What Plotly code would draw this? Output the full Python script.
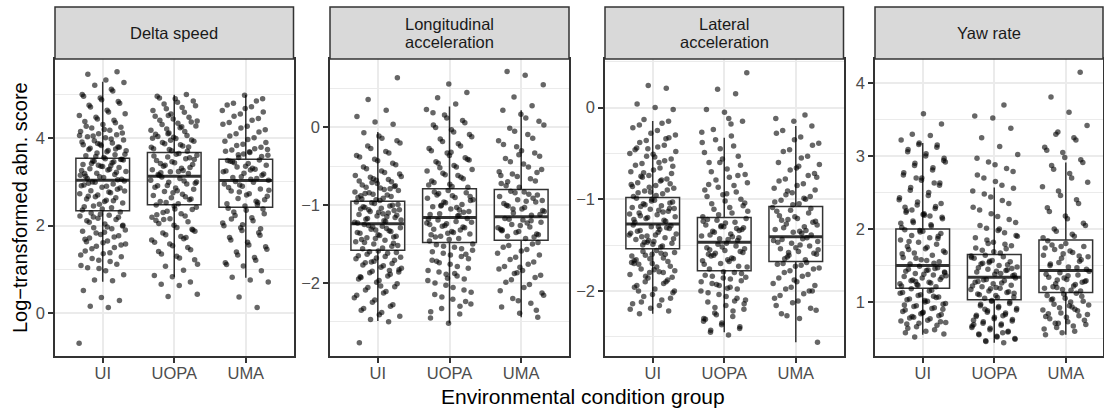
import plotly.graph_objects as go

groups = ["UI", "UOPA", "UMA"]
facet_titles = [["Delta speed"], ["Longitudinal", "acceleration"], ["Lateral", "acceleration"], ["Yaw rate"]]

# ---------------- box statistics ----------------
ds_lower = [0.72, 0.83, 0.81]
ds_q1 = [2.34, 2.48, 2.42]
ds_median = [3.04, 3.13, 3.03]
ds_q3 = [3.54, 3.67, 3.52]
ds_upper = [5.29, 4.99, 4.99]

lo_lower = [-2.49, -2.52, -2.44]
lo_q1 = [-1.58, -1.48, -1.45]
lo_median = [-1.24, -1.16, -1.15]
lo_q3 = [-0.95, -0.79, -0.80]
lo_upper = [-0.06, 0.27, 0.22]

la_lower = [-2.25, -2.45, -2.56]
la_q1 = [-1.54, -1.78, -1.68]
la_median = [-1.27, -1.47, -1.41]
la_q3 = [-0.98, -1.20, -1.08]
la_upper = [-0.145, -0.33, -0.20]

yr_lower = [0.55, 0.44, 0.55]
yr_q1 = [1.19, 1.03, 1.13]
yr_median = [1.50, 1.34, 1.43]
yr_q3 = [2.00, 1.65, 1.85]
yr_upper = [3.18, 2.57, 2.91]

# ---------------- individual scores (approximate readings) ----------------
ds_ui = [-0.69, 0.13, 0.16, 0.29, 0.36, 0.52, 0.74, 0.76, 0.88, 0.97, 1.04, 1.12, 1.21, 1.33, 1.38, 1.47, 1.56,
         1.61, 1.69, 1.74, 1.83, 1.9, 1.97, 2.08, 2.19, 2.26,
         2.36, 2.41, 2.45, 2.52, 2.55, 2.61, 2.64, 2.7, 2.73, 2.77, 2.8, 2.86, 2.88, 2.93, 2.95, 2.99, 3.02,
         2.58, 2.67, 2.83, 2.49, 2.91, 2.75, 3.0,
         3.06, 3.1, 3.13, 3.17, 3.2, 3.24, 3.27, 3.3, 3.33, 3.36, 3.4, 3.44, 3.47, 3.5, 3.53, 3.08, 3.22, 3.38,
         3.15, 3.29, 3.42, 3.51, 3.35, 3.19, 3.46,
         3.58, 3.63, 3.69, 3.74, 3.8, 3.86, 3.91, 3.98, 4.05, 4.12, 4.2, 4.27, 4.35, 4.44, 4.52, 4.6, 4.71,
         4.8, 4.88, 4.96, 5.08, 5.21, 5.27, 5.33, 5.46, 5.52,
         1.02, 1.09, 1.18, 1.25, 1.29, 1.36, 1.42, 1.5, 1.53, 1.58, 1.65, 1.72, 1.77, 1.8, 1.87, 1.93, 1.95,
         2.01, 2.04, 2.11, 2.14, 2.17, 2.22, 2.24, 2.29, 2.31,
         2.38, 2.43, 2.57, 2.66, 2.79, 2.9, 2.97, 3.05, 3.12, 3.26, 3.37, 3.48, 3.52,
         3.56, 3.6, 3.62, 3.66, 3.71, 3.72, 3.77, 3.79, 3.83, 3.85, 3.89, 3.94, 3.96, 4.01, 4.03, 4.08, 4.1,
         4.15, 4.18, 4.23, 4.25, 4.31, 4.38, 4.41, 4.48, 4.56, 4.64, 4.75, 4.84, 4.92, 5.0, 5.12, 2.2, 1.99,
         1.85, 1.63, 3.75, 3.88, 4.06]
ds_uopa = [0.38, 0.43, 0.63, 0.66, 0.71, 0.83, 0.86, 0.98, 1.07, 1.22, 1.3, 1.41, 1.5, 1.58, 1.67, 1.75, 1.83,
           1.92, 2.01, 2.12, 2.22, 2.33, 2.42,
           2.5, 2.55, 2.59, 2.64, 2.69, 2.72, 2.78, 2.83, 2.86, 2.91, 2.95, 2.99, 3.04, 3.08, 3.11, 2.61, 2.75,
           2.88, 3.02, 2.53, 2.97, 2.8,
           3.15, 3.19, 3.23, 3.28, 3.31, 3.36, 3.4, 3.44, 3.49, 3.53, 3.57, 3.61, 3.65, 3.21, 3.33, 3.46, 3.59,
           3.26, 3.38, 3.51, 3.63, 3.17,
           3.7, 3.74, 3.79, 3.85, 3.9, 3.96, 4.02, 4.09, 4.15, 4.21, 4.28, 4.34, 4.41, 4.48, 4.55, 4.63, 4.7,
           4.78, 4.85, 4.9, 4.96, 5.0, 4.52,
           1.12, 1.26, 1.35, 1.45, 1.54, 1.62, 1.7, 1.79, 1.87, 1.96, 2.05, 2.09, 2.16, 2.19, 2.27, 2.3, 2.37,
           2.45, 2.47, 2.66, 2.92, 3.0, 3.24, 3.42, 3.55, 3.71, 3.76, 3.82, 3.87, 3.93, 3.99, 4.04, 4.06, 4.12,
           4.18, 4.24, 4.31, 4.37, 4.44, 4.5, 4.59, 4.67, 4.74, 4.82, 4.92, 3.8, 3.95, 4.0, 4.26, 2.14, 1.9,
           2.38, 2.25, 1.73, 4.1, 4.39]
ds_uma = [0.13, 0.37, 0.71, 0.76, 0.82, 0.97, 1.08, 1.15, 1.27, 1.4, 1.52, 1.62, 1.73, 1.84, 1.95, 2.06, 2.18,
          2.31, 2.38,
          2.45, 2.5, 2.56, 2.62, 2.67, 2.73, 2.79, 2.84, 2.9, 2.95, 2.99, 3.01, 2.59, 2.7, 2.87, 2.53, 2.93, 2.81,
          3.06, 3.1, 3.15, 3.2, 3.25, 3.29, 3.34, 3.38, 3.42, 3.47, 3.5, 3.12, 3.23, 3.31, 3.44, 3.18, 3.36,
          3.49, 3.08,
          3.56, 3.61, 3.67, 3.73, 3.79, 3.86, 3.93, 4.01, 4.1, 4.19, 4.27, 4.36, 4.45, 4.55, 4.63, 4.72, 4.8,
          4.9, 4.98,
          1.11, 1.21, 1.33, 1.46, 1.56, 1.67, 1.78, 1.89, 2.0, 2.11, 2.23, 2.27, 2.35, 2.4, 2.48, 2.77, 3.04,
          3.27, 3.46, 3.58, 3.64, 3.7, 3.76, 3.83, 3.9, 3.97, 4.05, 4.14, 4.23, 4.32, 4.41, 4.5, 4.6, 4.68,
          4.76, 4.85, 3.62, 3.74, 3.69, 2.15, 1.93, 2.02]

lo_ui = [-2.77, -2.5, -2.47, -2.43, -2.38, -2.33, -2.28, -2.22, -2.16, -2.11, -2.06, -2.01, -1.97, -1.93,
         -1.89, -1.85, -1.81, -1.78, -1.74, -1.71, -1.68, -1.65, -1.62, -1.6, -1.86, -2.04,
         -1.56, -1.53, -1.5, -1.47, -1.45, -1.42, -1.4, -1.38, -1.36, -1.33, -1.31, -1.29, -1.27, -1.25,
         -1.49, -1.43, -1.35, -1.3, -1.26, -1.52, -1.39, -1.44, -1.34, -1.28,
         -1.22, -1.2, -1.18, -1.16, -1.14, -1.12, -1.1, -1.08, -1.06, -1.04, -1.02, -1.0, -0.98, -0.96,
         -1.21, -1.17, -1.13, -1.09, -1.05, -1.01, -0.97, -1.19, -1.11, -1.03, -1.07,
         -0.93, -0.9, -0.87, -0.84, -0.81, -0.78, -0.74, -0.7, -0.66, -0.62, -0.58, -0.53, -0.48, -0.43,
         -0.38, -0.33, -0.27, -0.2, -0.14, -0.07, 0.04, 0.07, 0.14, 0.22, 0.36, 0.64,
         -2.41, -2.35, -2.3, -2.25, -2.19, -2.13, -2.09, -2.05, -1.99, -1.95, -1.91, -1.87, -1.83, -1.8,
         -1.77, -1.75, -1.72, -1.69, -1.66, -1.63, -1.61, -1.59, -1.92, -1.84, -1.73, -1.67,
         -1.55, -1.48, -1.41, -1.32, -1.23, -1.15, -1.06, -0.99,
         -0.94, -0.92, -0.89, -0.86, -0.83, -0.8, -0.77, -0.75, -0.72, -0.69, -0.67, -0.64, -0.6, -0.56,
         -0.51, -0.46, -0.41, -0.36, -0.31, -0.24, -0.17, -0.11, -0.88, -0.79, -0.71, -0.63, -0.91, -0.85,
         -0.76, -0.68]
lo_uopa = [-2.52, -2.45, -2.4, -2.33, -2.27, -2.21, -2.15, -2.09, -2.03, -1.97, -1.91, -1.86, -1.81, -1.76,
           -1.71, -1.66, -1.62, -1.58, -1.54, -1.51, -2.24, -1.94,
           -1.46, -1.43, -1.4, -1.37, -1.34, -1.31, -1.28, -1.26, -1.23, -1.21, -1.19, -1.17, -1.44, -1.38,
           -1.32, -1.27, -1.22, -1.35, -1.41, -1.29, -1.24, -1.18,
           -1.14, -1.11, -1.08, -1.05, -1.02, -0.99, -0.96, -0.93, -0.9, -0.87, -0.84, -0.81, -1.12, -1.06,
           -1.0, -0.94, -0.88, -0.83, -1.09, -0.97, -0.91, -1.03, -0.85,
           -0.77, -0.73, -0.69, -0.64, -0.59, -0.54, -0.49, -0.44, -0.39, -0.33, -0.27, -0.21, -0.15, -0.09,
           -0.03, 0.03, 0.09, 0.16, 0.23, 0.3, 0.38, 0.45, 0.56,
           -2.37, -2.3, -2.18, -2.12, -2.06, -2.0, -1.95, -1.89, -1.84, -1.79, -1.74, -1.69, -1.64, -1.6,
           -1.56, -1.53, -1.5, -1.88, -1.72, -1.63, -1.36, -1.25, -1.13, -1.01, -0.89, -0.76, -0.71, -0.66,
           -0.61, -0.56, -0.51, -0.46, -0.41, -0.36, -0.3, -0.24, -0.18, -0.12, -0.06, 0.0, 0.06, 0.12, -0.74,
           -0.62, -0.52, -0.42, -0.32, 0.19]
lo_uma = [-2.44, -2.39, -2.31, -2.26, -2.2, -2.13, -2.06, -1.99, -1.93, -1.87, -1.82, -1.76, -1.7, -1.64,
          -1.59, -1.54, -1.5, -1.88, -2.16,
          -1.43, -1.4, -1.37, -1.34, -1.31, -1.28, -1.25, -1.22, -1.19, -1.17, -1.41, -1.35, -1.29, -1.23,
          -1.18, -1.38, -1.26, -1.32,
          -1.13, -1.1, -1.07, -1.03, -1.0, -0.96, -0.93, -0.89, -0.86, -0.82, -1.12, -1.05, -0.98, -0.91,
          -0.84, -1.08, -0.95, -1.01, -0.87,
          -0.77, -0.72, -0.66, -0.6, -0.54, -0.47, -0.4, -0.33, -0.25, -0.17, -0.09, -0.01, 0.08, 0.17, 0.22,
          0.28, 0.39, 0.55, 0.67, 0.72,
          -2.35, -2.23, -2.1, -2.02, -1.96, -1.9, -1.84, -1.79, -1.73, -1.67, -1.62, -1.57, -1.52, -1.48,
          -1.8, -1.33, -1.2, -1.05, -0.94, -0.83, -0.75, -0.69, -0.63, -0.57, -0.51, -0.44, -0.37, -0.3,
          -0.22, -0.14, -0.05, 0.03, 0.12, -0.7, -0.58, -0.35, -0.62]

la_ui = [-2.25, -2.22, -2.19, -2.14, -2.1, -2.06, -2.02, -1.98, -1.94, -1.9, -1.86, -1.82, -1.79, -1.76,
         -1.73, -1.7, -1.67, -1.64, -1.61, -1.58, -1.56, -2.0, -1.88, -1.8, -1.69,
         -1.52, -1.5, -1.48, -1.46, -1.44, -1.42, -1.4, -1.38, -1.36, -1.34, -1.32, -1.3, -1.28, -1.51, -1.47,
         -1.43, -1.39, -1.35, -1.31, -1.45, -1.37, -1.33, -1.41, -1.29, -1.49,
         -1.25, -1.23, -1.21, -1.19, -1.17, -1.15, -1.13, -1.11, -1.09, -1.07, -1.05, -1.03, -1.01, -0.99,
         -1.24, -1.2, -1.16, -1.12, -1.08, -1.04, -1.0, -1.22, -1.14, -1.06, -1.1,
         -0.96, -0.93, -0.9, -0.87, -0.84, -0.8, -0.76, -0.72, -0.68, -0.63, -0.58, -0.53, -0.48, -0.43,
         -0.38, -0.33, -0.28, -0.22, -0.17, -0.13, -0.02, 0.0, 0.04, 0.21, 0.24,
         -2.2, -2.16, -2.12, -2.08, -2.04, -1.96, -1.92, -1.84, -1.78, -1.74, -1.71, -1.68, -1.65, -1.62,
         -1.59, -1.57, -1.85, -1.77, -1.66, -1.6, -1.47, -1.39, -1.3, -1.18, -1.1, -1.02, -0.97, -0.94,
         -0.91, -0.88, -0.85, -0.82, -0.78, -0.74, -0.7, -0.66, -0.61, -0.56, -0.51, -0.46, -0.41, -0.36,
         -0.3, -0.25, -0.19, -0.15, -0.92, -0.86, -0.79, -0.71, -0.64, -0.54, -0.44, -0.34, -0.45, -0.5,
         -0.6, -0.75, -0.83, -1.6, -1.7, -1.8, -1.9, -2.0]
la_uopa = [-2.48, -2.45, -2.41, -2.37, -2.33, -2.28, -2.24, -2.2, -2.16, -2.12, -2.08, -2.04, -2.0, -1.96,
           -1.92, -1.89, -1.86, -1.83, -1.8, -2.26, -2.1, -1.97,
           -1.76, -1.73, -1.7, -1.67, -1.64, -1.61, -1.58, -1.56, -1.53, -1.51, -1.49, -1.74, -1.68, -1.62,
           -1.57, -1.52, -1.71, -1.65, -1.59, -1.54, -1.48, -1.6,
           -1.45, -1.43, -1.4, -1.38, -1.35, -1.33, -1.3, -1.28, -1.25, -1.23, -1.21, -1.44, -1.39, -1.34,
           -1.29, -1.24, -1.41, -1.36, -1.31, -1.26, -1.22, -1.32,
           -1.17, -1.13, -1.09, -1.05, -1.0, -0.95, -0.9, -0.85, -0.79, -0.73, -0.67, -0.6, -0.53, -0.45,
           -0.38, -0.31, -0.24, -0.15, -0.05, -0.02, 0.15, 0.2, 0.38, -0.12,
           -2.43, -2.39, -2.35, -2.3, -2.22, -2.18, -2.14, -2.06, -2.02, -1.98, -1.94, -1.9, -1.87, -1.84,
           -1.81, -1.79, -2.31, -2.11, -1.93, -1.85, -1.66, -1.55, -1.42, -1.3, -1.19, -1.15, -1.11, -1.07,
           -1.02, -0.97, -0.92, -0.87, -0.82, -0.76, -0.7, -0.63, -0.56, -0.49, -0.42, -0.35, -1.04, -0.94,
           -0.84, -0.74, -0.6, -0.27, -0.18]
la_uma = [-2.56, -2.3, -2.25, -2.19, -2.13, -2.08, -2.03, -1.98, -1.94, -1.9, -1.86, -1.82, -1.78, -1.75,
          -1.72, -1.7, -2.0, -1.88, -2.16,
          -1.66, -1.63, -1.6, -1.57, -1.54, -1.51, -1.48, -1.45, -1.43, -1.65, -1.59, -1.53, -1.47, -1.42,
          -1.61, -1.55, -1.5, -1.44,
          -1.39, -1.36, -1.33, -1.3, -1.27, -1.24, -1.21, -1.18, -1.15, -1.12, -1.09, -1.37, -1.31, -1.25,
          -1.19, -1.13, -1.34, -1.22, -1.28,
          -1.05, -1.01, -0.97, -0.93, -0.88, -0.83, -0.78, -0.72, -0.66, -0.6, -0.53, -0.46, -0.39, -0.32,
          -0.25, -0.2, -0.15, -0.12, -0.08,
          -2.27, -2.21, -2.11, -2.05, -2.0, -1.96, -1.92, -1.84, -1.8, -1.76, -1.73, -1.71, -1.69, -1.58,
          -1.46, -1.35, -1.23, -1.1, -1.06, -1.03, -0.99, -0.95, -0.9, -0.85, -0.8, -0.74, -0.68, -0.62,
          -0.55, -0.48, -0.41, -0.35, -0.28, -1.0, -0.91, -0.76, -0.64]

yr_ui = [0.52, 0.56, 0.6, 0.64, 0.68, 0.71, 0.74, 0.77, 0.8, 0.83, 0.86, 0.89, 0.92, 0.95, 0.98, 1.01, 1.04,
         1.07, 1.1, 1.13, 1.16, 0.79, 0.9, 1.02, 0.7,
         1.21, 1.23, 1.25, 1.27, 1.29, 1.31, 1.33, 1.35, 1.37, 1.39, 1.41, 1.43, 1.45, 1.47, 1.49, 1.22,
         1.26, 1.3, 1.34, 1.38, 1.42, 1.46, 1.24, 1.36, 1.44,
         1.52, 1.55, 1.58, 1.61, 1.64, 1.67, 1.7, 1.73, 1.76, 1.79, 1.82, 1.85, 1.88, 1.91, 1.94, 1.97, 1.99,
         1.53, 1.6, 1.68, 1.75, 1.83, 1.9, 1.96, 1.66,
         2.04, 2.09, 2.14, 2.19, 2.25, 2.31, 2.37, 2.43, 2.5, 2.57, 2.63, 2.7, 2.77, 2.84, 2.9, 2.97, 3.03,
         3.09, 3.15, 3.18, 3.22, 3.28, 3.3, 3.44, 3.58,
         0.58, 0.62, 0.66, 0.72, 0.75, 0.78, 0.81, 0.84, 0.87, 0.91, 0.94, 0.97, 1.0, 1.03, 1.06, 1.09, 1.12,
         1.15, 1.18, 0.73, 0.85, 0.96, 1.08, 1.28, 1.4, 1.57, 1.72, 1.87, 1.98, 2.02, 2.06, 2.11, 2.16, 2.21,
         2.23, 2.28, 2.33, 2.4, 2.46, 2.53, 2.6, 2.67, 2.74, 2.81, 2.87, 2.94, 3.0, 3.06, 3.12, 3.16, 2.08,
         2.18, 2.26, 2.35, 2.2, 2.3, 2.63, 2.7, 2.92]
yr_uopa = [0.44, 0.47, 0.5, 0.53, 0.56, 0.59, 0.62, 0.65, 0.68, 0.71, 0.74, 0.77, 0.8, 0.83, 0.86, 0.89, 0.92,
           0.95, 0.98, 1.01, 0.75, 0.58,
           1.05, 1.07, 1.09, 1.11, 1.13, 1.15, 1.17, 1.19, 1.21, 1.23, 1.25, 1.27, 1.29, 1.31, 1.33, 1.06,
           1.1, 1.14, 1.18, 1.22, 1.26, 1.3,
           1.36, 1.38, 1.41, 1.43, 1.45, 1.48, 1.5, 1.52, 1.55, 1.57, 1.6, 1.62, 1.64, 1.37, 1.42, 1.47, 1.51,
           1.56, 1.61, 1.39, 1.53, 1.46,
           1.69, 1.74, 1.79, 1.85, 1.91, 1.98, 2.05, 2.13, 2.21, 2.3, 2.39, 2.48, 2.56, 2.65, 2.74, 2.83, 2.92,
           3.02, 3.13, 3.25, 3.38, 3.52, 3.55, 3.7,
           0.46, 0.49, 0.52, 0.55, 0.6, 0.64, 0.67, 0.7, 0.73, 0.76, 0.79, 0.82, 0.85, 0.88, 0.91, 0.94, 0.97,
           1.0, 1.02, 0.69, 0.81, 0.9, 1.12, 1.2, 1.28, 1.44, 1.54, 1.63, 1.67, 1.71, 1.77, 1.82, 1.88, 1.95,
           2.01, 2.09, 2.17, 2.26, 2.35, 2.44, 2.52, 2.6, 2.7, 2.79, 2.88, 2.97, 1.73, 1.8, 1.9, 2.0]
yr_uma = [0.55, 0.6, 0.65, 0.69, 0.73, 0.77, 0.81, 0.85, 0.89, 0.93, 0.97, 1.01, 1.05, 1.09, 1.12, 0.71, 0.83,
          0.95, 1.03,
          1.15, 1.17, 1.19, 1.22, 1.25, 1.28, 1.31, 1.34, 1.37, 1.4, 1.42, 1.16, 1.21, 1.27, 1.33, 1.38, 1.24,
          1.3,
          1.45, 1.48, 1.52, 1.56, 1.6, 1.64, 1.68, 1.72, 1.76, 1.8, 1.84, 1.47, 1.54, 1.62, 1.7, 1.78, 1.58,
          1.66, 1.74,
          1.9, 1.97, 2.05, 2.14, 2.24, 2.35, 2.46, 2.58, 2.7, 2.82, 2.91, 2.98, 3.08, 3.22, 3.33, 3.42, 3.6,
          3.81, 4.15,
          0.58, 0.63, 0.67, 0.71, 0.75, 0.79, 0.84, 0.88, 0.92, 0.96, 1.0, 1.04, 1.08, 1.11, 0.8, 0.9, 1.2,
          1.29, 1.36, 1.5, 1.63, 1.76, 1.88, 1.93, 2.0, 2.08, 2.18, 2.29, 2.4, 2.52, 2.64, 2.76, 2.87, 2.95,
          3.05, 3.12, 3.25, 3.3]

facets = [
    dict(points=[ds_ui, ds_uopa, ds_uma], lower=ds_lower, q1=ds_q1, median=ds_median, q3=ds_q3, upper=ds_upper),
    dict(points=[lo_ui, lo_uopa, lo_uma], lower=lo_lower, q1=lo_q1, median=lo_median, q3=lo_q3, upper=lo_upper),
    dict(points=[la_ui, la_uopa, la_uma], lower=la_lower, q1=la_q1, median=la_median, q3=la_q3, upper=la_upper),
    dict(points=[yr_ui, yr_uopa, yr_uma], lower=yr_lower, q1=yr_q1, median=yr_median, q3=yr_q3, upper=yr_upper),
]

# ---------------- layout / style ----------------
W, H = 1104, 409
panel_px = [(55, 293.5), (330, 569), (605, 843.5), (875, 1103)]
top_px, bot_px, strip_top_px = 59, 356, 7
x_ranges = [[-0.667, 2.667], [-0.667, 2.667], [-0.667, 2.667], [-0.667, 2.52]]
y_ranges = [[-0.98, 5.81], [-2.94, 0.88], [-2.71, 0.53], [0.26, 4.33]]
y_dticks = [2, 1, 1, 1]
JITTER_HALF = 0.33      # half-width of horizontal jitter (in category units)
GOLDEN = 0.6180339887   # deterministic low-discrepancy jitter sequence

FONT = "Liberation Sans, Arial, Helvetica, sans-serif"
DARK = "#333333"
GRID = "#EBEBEB"
pos = list(range(len(groups)))

fig = go.Figure()
layout = dict(
    width=W, height=H,
    margin=dict(l=0, r=0, t=0, b=0),
    paper_bgcolor="white", plot_bgcolor="white",
    showlegend=False, boxmode="overlay",
    font=dict(family=FONT, color="#4D4D4D", size=16.5),
    shapes=[], annotations=[],
)

for i, f in enumerate(facets):
    sfx = "" if i == 0 else str(i + 1)
    xa, ya = "x" + sfx, "y" + sfx
    xs, ys = [], []
    for gi, vals in enumerate(f["points"]):
        for k, v in enumerate(vals):
            jit = ((k * GOLDEN + 0.37 * gi + 0.11 * i) % 1.0 - 0.5) * 2 * JITTER_HALF
            xs.append(pos[gi] + jit)
            ys.append(v)
    fig.add_trace(go.Scatter(
        x=xs, y=ys, mode="markers",
        marker=dict(color="rgba(0,0,0,0.6)", size=5.5, line=dict(width=0)),
        xaxis=xa, yaxis=ya, hoverinfo="skip", showlegend=False))
    # box from statistics, drawn on top with translucent white fill
    fig.add_trace(go.Box(
        x=pos, q1=f["q1"], median=f["median"], q3=f["q3"],
        lowerfence=f["lower"], upperfence=f["upper"],
        boxpoints=False, width=0.75, whiskerwidth=0,
        fillcolor="rgba(255,255,255,0.33)", line=dict(color=DARK, width=1.5),
        xaxis=xa, yaxis=ya, hoverinfo="skip", showlegend=False))
    # thicker median bar
    fig.add_trace(go.Box(
        x=pos, q1=f["median"], median=f["median"], q3=f["median"],
        lowerfence=f["median"], upperfence=f["median"],
        boxpoints=False, width=0.75, whiskerwidth=0,
        fillcolor="rgba(0,0,0,0)", line=dict(color=DARK, width=3),
        xaxis=xa, yaxis=ya, hoverinfo="skip", showlegend=False))

    x0, x1 = panel_px[i]
    dom_x = [x0 / W, x1 / W]
    dom_y = [1 - bot_px / H, 1 - top_px / H]
    layout["xaxis" + sfx] = dict(
        domain=dom_x, anchor=ya, range=x_ranges[i],
        tickmode="array", tickvals=pos, ticktext=groups,
        showgrid=True, gridcolor=GRID, gridwidth=1.5, zeroline=False,
        showline=True, mirror=True, linecolor=DARK, linewidth=1.5,
        ticks="outside", ticklen=5, tickwidth=1.5, tickcolor=DARK,
        ticklabelstandoff=-4,
        tickfont=dict(size=16.5, color="#4D4D4D"))
    layout["yaxis" + sfx] = dict(
        domain=dom_y, anchor=xa, range=y_ranges[i], tick0=0, dtick=y_dticks[i],
        showgrid=True, gridcolor=GRID, gridwidth=1.5, zeroline=False,
        minor=dict(dtick=y_dticks[i] / 2, showgrid=True, gridcolor=GRID, gridwidth=0.75),
        showline=True, mirror=True, linecolor=DARK, linewidth=1.5,
        ticks="outside", ticklen=5, tickwidth=1.5, tickcolor=DARK,
        tickfont=dict(size=16.5, color="#4D4D4D"))
    # facet strip
    layout["shapes"].append(dict(
        type="rect", xref="paper", yref="paper",
        x0=x0 / W, x1=x1 / W, y0=1 - top_px / H, y1=1 - strip_top_px / H,
        fillcolor="#D9D9D9", line=dict(color=DARK, width=1.5), layer="above"))
    lines = facet_titles[i]
    mid = (top_px + strip_top_px) / 2
    for li, txt in enumerate(lines):
        yc = mid + (li - (len(lines) - 1) / 2) * 17
        layout["annotations"].append(dict(
            text=txt, xref="paper", yref="paper",
            x=(x0 + x1) / 2 / W, y=1 - yc / H,
            xanchor="center", yanchor="middle", showarrow=False,
            font=dict(size=16.5, color="#1A1A1A", family=FONT)))

layout["annotations"].append(dict(
    text="Log\u2212transformed abn. score", xref="paper", yref="paper",
    x=20 / W, y=1 - 208 / H, xanchor="center", yanchor="middle", textangle=-90,
    showarrow=False, font=dict(size=20, color="black", family=FONT)))
layout["annotations"].append(dict(
    text="Environmental condition group", xref="paper", yref="paper",
    x=583 / W, y=1 - 396 / H, xanchor="center", yanchor="middle",
    showarrow=False, font=dict(size=21, color="black", family=FONT)))

fig.update_layout(**layout)
fig.write_html("out.html")
